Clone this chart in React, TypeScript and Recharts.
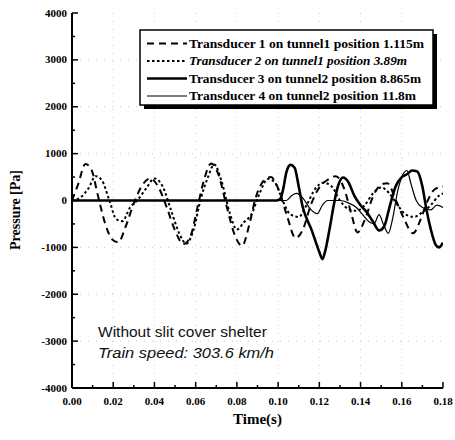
import React from 'react';
import { LineChart, Line, XAxis, YAxis, CartesianGrid, Legend } from 'recharts';

// ---------- data ----------
const xTicks = [0, 0.01, 0.02, 0.03, 0.04, 0.05, 0.06, 0.07, 0.08, 0.09, 0.1, 0.11, 0.12, 0.13, 0.14, 0.15, 0.16, 0.17, 0.18];
const yTicks = [-4000, -3500, -3000, -2500, -2000, -1500, -1000, -500, 0, 500, 1000, 1500, 2000, 2500, 3000, 3500, 4000];
const gridX = [0.02, 0.04, 0.06, 0.08, 0.1, 0.12, 0.14, 0.16];
const gridY = [-3000, -2000, -1000, 1000, 2000, 3000];

const seriesNames = [
  'Transducer 1 on tunnel1 position 1.115m',
  'Transducer 2 on tunnel1 position 3.89m',
  'Transducer 3 on tunnel2 position 8.865m',
  'Transducer 4 on tunnel2 position 11.8m',
];

const s1T = [0, 0.003, 0.0065, 0.0095, 0.0125, 0.016, 0.0195, 0.0225, 0.026, 0.03, 0.034, 0.038, 0.042, 0.046, 0.05, 0.054, 0.0575, 0.061, 0.064, 0.0675, 0.071, 0.075, 0.079, 0.0825, 0.086, 0.089, 0.093, 0.0965, 0.1, 0.104, 0.1085, 0.112, 0.116, 0.12, 0.124, 0.128, 0.132, 0.1355, 0.1385, 0.142, 0.146, 0.15, 0.153, 0.157, 0.161, 0.1655, 0.169, 0.172, 0.176, 0.18];
const s1P = [0, 350, 780, 650, 120, -480, -830, -890, -560, -60, 320, 470, 280, -150, -640, -930, -760, -120, 430, 790, 560, -120, -740, -970, -520, 40, 420, 500, 260, -280, -800, -620, -80, 280, 440, 520, 260, -280, -680, -420, 80, 340, 370, 20, -380, -700, -420, -60, 240, 300];

const s2T = [0, 0.004, 0.008, 0.0115, 0.0145, 0.018, 0.0215, 0.0245, 0.028, 0.032, 0.036, 0.04, 0.044, 0.048, 0.052, 0.0555, 0.059, 0.0625, 0.066, 0.069, 0.0725, 0.0765, 0.08, 0.0835, 0.087, 0.091, 0.095, 0.0985, 0.102, 0.106, 0.11, 0.114, 0.118, 0.122, 0.126, 0.13, 0.134, 0.138, 0.142, 0.146, 0.15, 0.154, 0.158, 0.162, 0.166, 0.17, 0.174, 0.178, 0.18];
const s2P = [0, 60, 260, 520, 430, 20, -400, -440, -160, 20, 260, 470, 300, -200, -700, -920, -620, 40, 500, 770, 420, -260, -620, -460, -300, 150, 460, 380, 20, -300, -350, -80, 250, 380, 300, 0, -180, -220, -100, 150, 280, 150, -100, -300, -350, -250, -100, 100, 150];

const s3T = [0, 0.099, 0.101, 0.1025, 0.104, 0.106, 0.108, 0.11, 0.112, 0.114, 0.116, 0.118, 0.12, 0.1215, 0.123, 0.125, 0.127, 0.129, 0.1315, 0.134, 0.137, 0.14, 0.143, 0.146, 0.149, 0.1515, 0.154, 0.157, 0.16, 0.1625, 0.165, 0.1675, 0.17, 0.172, 0.174, 0.1765, 0.178, 0.18];
const s3P = [0, 0, 30, 250, 600, 760, 700, 300, -150, -400, -600, -850, -1100, -1250, -1050, -600, -100, 300, 490, 400, 100, -100, -250, -450, -640, -550, -150, 300, 500, 560, 640, 620, 300, -200, -600, -950, -1000, -900];

const s4T = [0, 0.104, 0.1065, 0.109, 0.112, 0.116, 0.119, 0.1215, 0.124, 0.13, 0.134, 0.138, 0.141, 0.144, 0.1465, 0.149, 0.151, 0.1535, 0.1555, 0.158, 0.1605, 0.1625, 0.1645, 0.167, 0.17, 0.174, 0.177, 0.18];
const s4P = [0, 0, 100, 150, 50, -200, -280, -100, 0, 0, -50, -150, -300, -450, -500, -300, -500, -700, -400, 200, 550, 640, 350, 0, -150, -200, -100, -150];

const toPts = (t: number[], p: number[]) => t.map((v, i) => ({ t: v, p: p[i] }));
const d1 = toPts(s1T, s1P);
const d2 = toPts(s2T, s2P);
const d3 = toPts(s3T, s3P);
const d4 = toPts(s4T, s4P);

const SERIF = '"Liberation Serif", "Times New Roman", Times, serif';
const SANS = '"Liberation Sans", Arial, Helvetica, sans-serif';

const isMajorX = (v: number) => Math.round(v * 100) % 2 === 0;
const isMajorY = (v: number) => v % 1000 === 0;

const XTickBottom = (props: any) => {
  const { x, y, payload } = props;
  const v = payload.value as number;
  const major = isMajorX(v);
  return (
    <g>
      <line x1={x} y1={y} x2={x} y2={y - (major ? 6 : 3)} stroke="#000" strokeWidth={1.5} />
      {major && (
        <text x={x} y={y + 17} textAnchor="middle" fontFamily={SERIF} fontWeight="bold" fontSize={11} fill="#000">
          {v.toFixed(2)}
        </text>
      )}
    </g>
  );
};

const XTickTop = (props: any) => {
  const { x, y, payload } = props;
  const major = isMajorX(payload.value);
  return <line x1={x} y1={y} x2={x} y2={y + (major ? 6 : 3)} stroke="#000" strokeWidth={1.5} />;
};

const YTickLeft = (props: any) => {
  const { x, y, payload } = props;
  const v = payload.value as number;
  const major = isMajorY(v);
  return (
    <g>
      <line x1={x} y1={y} x2={x + (major ? 6 : 3)} y2={y} stroke="#000" strokeWidth={1.5} />
      {major && (
        <text x={x - 5} y={y + 3.5} textAnchor="end" fontFamily={SERIF} fontWeight="bold" fontSize={11} fill="#000">
          {String(v)}
        </text>
      )}
    </g>
  );
};

const YTickRight = (props: any) => {
  const { x, y, payload } = props;
  const major = isMajorY(payload.value);
  return <line x1={x} y1={y} x2={x - (major ? 6 : 3)} y2={y} stroke="#000" strokeWidth={1.5} />;
};

const legendStyles = [
  { dash: '7 5', width: 2 },
  { dash: '2.5 2.5', width: 2 },
  { dash: undefined, width: 2.6 },
  { dash: undefined, width: 1.2 },
];
const legendLens = [235, 218, 232, 227];

const renderLegend = () => (
  <svg width={305} height={90} style={{ display: 'block' }}>
    <rect x={6} y={6} width={293} height={75} fill="#000" />
    <rect x={2} y={2} width={293} height={75} fill="#fff" stroke="#000" strokeWidth={1.5} />
    {seriesNames.map((name, i) => {
      const cy = 15.5 + i * 17.5;
      return (
        <g key={name}>
          <line x1={9} y1={cy} x2={49} y2={cy} stroke="#000" strokeWidth={legendStyles[i].width} strokeDasharray={legendStyles[i].dash} />
          <text
            x={51}
            y={cy + 4}
            fontFamily={SERIF}
            fontWeight="bold"
            fontStyle={i === 1 ? 'italic' : 'normal'}
            fontSize={11.5}
            fill="#000"
            textLength={legendLens[i]}
            lengthAdjust="spacingAndGlyphs"
          >
            {name}
          </text>
        </g>
      );
    })}
  </svg>
);

const XTitle = () => (
  <text x={257.5} y={424} textAnchor="middle" fontFamily={SERIF} fontWeight="bold" fontSize={15} fill="#000">
    Time(s)
  </text>
);

const YTitle = () => (
  <text transform="translate(20,210) rotate(-90)" textAnchor="middle" fontFamily={SERIF} fontWeight="bold" fontSize={14} fill="#000">
    Pressure [Pa]
  </text>
);

export default function App() {
  return (
    <div style={{ position: 'absolute', left: 0, top: 0, width: 455, height: 440, background: '#fff' }}>
      <LineChart width={455} height={440} margin={{ top: 13, right: 12, bottom: 0, left: 0 }}>
        <CartesianGrid
          xAxisId="b"
          yAxisId="l"
          verticalValues={gridX}
          horizontalValues={gridY}
          stroke="#c8c8c8"
          strokeDasharray="1 7"
        />
        <XAxis
          xAxisId="b"
          type="number"
          dataKey="t"
          domain={[0, 0.18]}
          ticks={xTicks}
          interval={0}
          allowDataOverflow
          tick={XTickBottom}
          tickLine={false}
          tickSize={0}
          tickMargin={0}
          axisLine={{ stroke: '#000', strokeWidth: 2 }}
          height={52}
          label={<XTitle />}
        />
        <XAxis
          xAxisId="t"
          orientation="top"
          type="number"
          dataKey="t"
          domain={[0, 0.18]}
          ticks={xTicks}
          interval={0}
          allowDataOverflow
          tick={XTickTop}
          tickLine={false}
          tickSize={0}
          tickMargin={0}
          axisLine={{ stroke: '#000', strokeWidth: 2 }}
          height={0}
        />
        <YAxis
          yAxisId="l"
          type="number"
          domain={[-4000, 4000]}
          ticks={yTicks}
          interval={0}
          allowDataOverflow
          tick={YTickLeft}
          tickLine={false}
          tickSize={0}
          tickMargin={0}
          axisLine={{ stroke: '#000', strokeWidth: 2 }}
          width={72}
          label={<YTitle />}
        />
        <YAxis
          yAxisId="r"
          orientation="right"
          type="number"
          domain={[-4000, 4000]}
          ticks={yTicks}
          interval={0}
          allowDataOverflow
          tick={YTickRight}
          tickLine={false}
          tickSize={0}
          tickMargin={0}
          axisLine={{ stroke: '#000', strokeWidth: 2 }}
          width={0}
        />
        <Legend
          layout="vertical"
          align="center"
          verticalAlign="middle"
          content={renderLegend}
          wrapperStyle={{ position: 'absolute', left: 138, top: 28, width: 305, height: 90 }}
        />
        <Line xAxisId="b" yAxisId="l" data={d4} dataKey="p" name={seriesNames[3]} type="monotone" stroke="#000" strokeWidth={1.2} dot={false} isAnimationActive={false} />
        <Line xAxisId="b" yAxisId="l" data={d3} dataKey="p" name={seriesNames[2]} type="monotone" stroke="#000" strokeWidth={2.6} dot={false} isAnimationActive={false} />
        <Line xAxisId="b" yAxisId="l" data={d2} dataKey="p" name={seriesNames[1]} type="monotone" stroke="#000" strokeWidth={2} strokeDasharray="2.5 2.5" dot={false} isAnimationActive={false} />
        <Line xAxisId="b" yAxisId="l" data={d1} dataKey="p" name={seriesNames[0]} type="monotone" stroke="#000" strokeWidth={2} strokeDasharray="7 5" dot={false} isAnimationActive={false} />
      </LineChart>
      <svg width={455} height={440} style={{ position: 'absolute', left: 0, top: 0, pointerEvents: 'none' }}>
        <text x={98} y={337} fontFamily={SANS} fontSize={15.5} fill="#111">
          Without slit cover shelter
        </text>
        <text x={98} y={358} fontFamily={SANS} fontStyle="italic" fontSize={15.5} fill="#111" textLength={176} lengthAdjust="spacingAndGlyphs">
          Train speed: 303.6 km/h
        </text>
      </svg>
    </div>
  );
}
